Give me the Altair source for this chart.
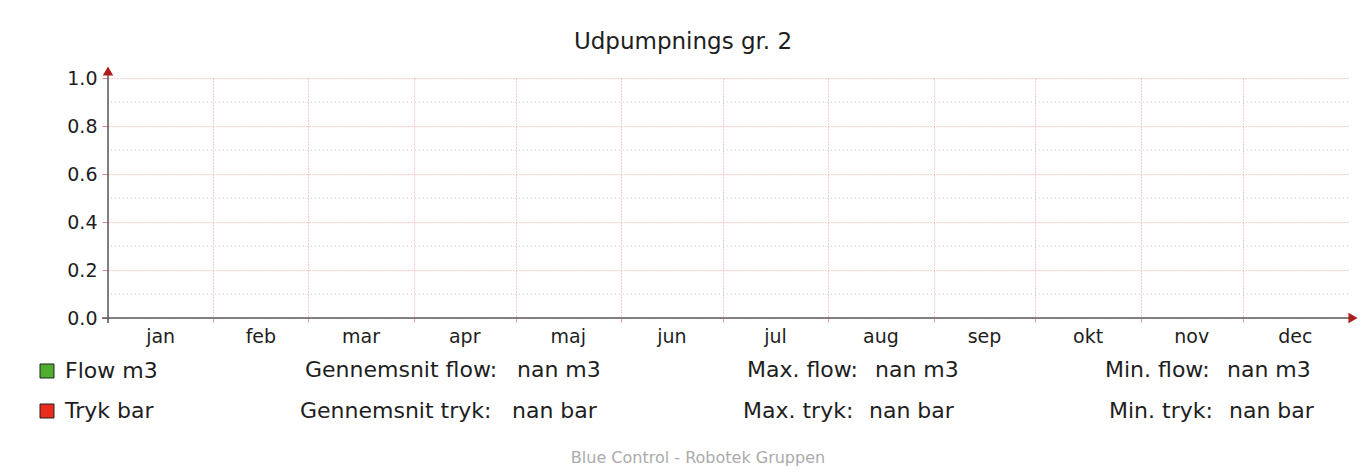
import altair as alt
import pandas as pd
import numpy as np

# ---------------- data ----------------
months = ["jan", "feb", "mar", "apr", "maj", "jun", "jul", "aug", "sep", "okt", "nov", "dec"]
month_days = [31, 28, 31, 30, 31, 30, 31, 31, 30, 31, 30, 31]
y_major = [0.0, 0.2, 0.4, 0.6, 0.8, 1.0]
y_minor = [0.1, 0.3, 0.5, 0.7, 0.9]
series_names = ["Flow m3", "Tryk bar"]
series_colors = ["#4FAE2E", "#EC2B1F"]
# the series have no data (all NaN) in the reference
flow_values = [None] * 12
tryk_values = [None] * 12

title_text = "Udpumpnings gr. 2"
footer_text = "Blue Control - Robotek Gruppen"
stat_labels_flow = ["Gennemsnit flow:", "Max. flow:", "Min. flow:"]
stat_values_flow = ["nan m3", "nan m3", "nan m3"]
stat_labels_tryk = ["Gennemsnit tryk:", "Max. tryk:", "Min. tryk:"]
stat_values_tryk = ["nan bar", "nan bar", "nan bar"]

# ---------------- tables ----------------
starts = list(np.cumsum([0] + month_days[:-1]).astype(int))
year_len = int(sum(month_days))
mdf = pd.DataFrame({
    "month": months,
    "start": starts,
    "mid": [s + d / 2 for s, d in zip(starts, month_days)],
})
sdf = pd.DataFrame({
    "day": [s + d / 2 for s, d in zip(starts, month_days)] * 2,
    "value": flow_values + tryk_values,
    "series": [series_names[0]] * 12 + [series_names[1]] * 12,
})
minor_df = pd.DataFrame({"v": y_minor})
one = pd.DataFrame({"k": [0]})

FONT = "DejaVu Sans"
TXT = "#1e1e1e"
PINK = "#EE9A9A"
W, H = 1240, 240

xscale = alt.Scale(domain=[0, year_len], nice=False, zero=False)
yscale = alt.Scale(domain=[0, 1], nice=False)

series_layer = alt.Chart(sdf).mark_square(filled=True, size=100).encode(
    x=alt.X("day:Q", scale=xscale, title=None,
            axis=alt.Axis(values=starts, labels=False, domain=False, ticks=True,
                          tickColor=PINK, tickSize=4, grid=True, gridColor=PINK,
                          gridDash=[1, 2], gridWidth=1)),
    y=alt.Y("value:Q", scale=yscale, title=None,
            axis=alt.Axis(values=y_major, format=".1f", domain=False, ticks=True,
                          tickColor="#d88", tickSize=6, labelPadding=5,
                          labelFont=FONT, labelFontSize=19, labelColor=TXT,
                          grid=True, gridColor=PINK, gridDash=[1, 2], gridWidth=1)),
    color=alt.Color("series:N",
                    scale=alt.Scale(domain=series_names, range=series_colors),
                    legend=alt.Legend(title=None, orient="none", legendX=-72, legendY=282,
                                      direction="vertical", symbolType="square",
                                      symbolSize=196, symbolStrokeColor="#222",
                                      symbolStrokeWidth=1, symbolOpacity=1,
                                      labelFont=FONT, labelFontSize=22, labelColor=TXT,
                                      labelOffset=7, rowPadding=18, padding=0)),
)

minor_rules = alt.Chart(minor_df).mark_rule(color="#c8c8c8", strokeDash=[1, 3], strokeWidth=1).encode(
    y=alt.Y("v:Q", scale=yscale)
)

month_labels = alt.Chart(mdf).mark_text(font=FONT, fontSize=19, color=TXT, baseline="middle").encode(
    x=alt.X("mid:Q", scale=xscale),
    y=alt.value(H + 19),
    text="month:N",
)

axis_col = "#5a5a5a"
arrow_col = "#B01C1C"
x_axis_line = alt.Chart(one).mark_rule(color=axis_col, strokeWidth=1.5).encode(
    x=alt.value(-6), x2=alt.value(W + 6), y=alt.value(H)
)
y_axis_line = alt.Chart(one).mark_rule(color=axis_col, strokeWidth=1.5).encode(
    x=alt.value(0), y=alt.value(-5), y2=alt.value(H + 5)
)
x_arrow = alt.Chart(one).mark_point(shape="triangle-right", filled=True, color=arrow_col,
                                      size=110, opacity=1).encode(
    x=alt.value(W + 5), y=alt.value(H)
)
y_arrow = alt.Chart(one).mark_point(shape="triangle-up", filled=True, color=arrow_col,
                                      size=110, opacity=1).encode(
    x=alt.value(0), y=alt.value(-7)
)


def txt(s, x, y, size=22, color=TXT, align="left"):
    return alt.Chart(one).mark_text(text=s, font=FONT, fontSize=size, color=color,
                                    align=align, baseline="middle").encode(
        x=alt.value(x), y=alt.value(y)
    )


texts = [
    txt(title_text, 575, -36, size=23, align="center"),
    txt(footer_text, 590, 380, size=16, color="#ababab", align="center"),
    txt(stat_labels_flow[0], 197, 292), txt(stat_values_flow[0], 409, 292),
    txt(stat_labels_tryk[0], 192, 333), txt(stat_values_tryk[0], 404, 333),
    txt(stat_labels_flow[1], 639, 292), txt(stat_values_flow[1], 767, 292),
    txt(stat_labels_tryk[1], 635, 333), txt(stat_values_tryk[1], 761, 333),
    txt(stat_labels_flow[2], 997, 292), txt(stat_values_flow[2], 1119, 292),
    txt(stat_labels_tryk[2], 1001, 333), txt(stat_values_tryk[2], 1121, 333),
]

chart = alt.layer(
    series_layer, minor_rules, month_labels,
    x_axis_line, y_axis_line, x_arrow, y_arrow, *texts
).properties(
    width=W, height=H,
    autosize=alt.AutoSizeParams(type="none"),
    padding={"left": 100, "top": 70, "right": 11, "bottom": 148},
    background="white",
).configure_view(stroke=None)

chart.save("out.html", embed_options={"renderer": "svg", "actions": False})
